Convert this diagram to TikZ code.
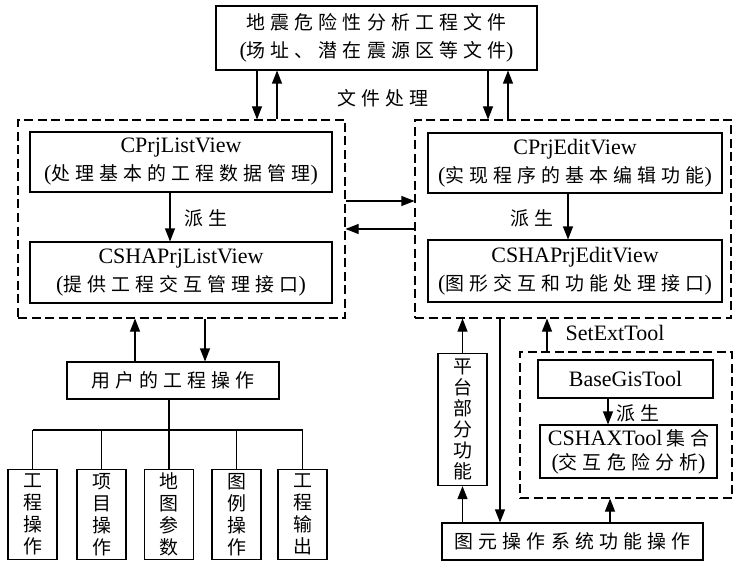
\documentclass[tikz,border=0pt]{standalone}
\usepackage{fontspec}
\setmainfont{Liberation Serif}
\newfontfamily\cjk{Noto Sans CJK SC}[Scale=0.86,LetterSpace=27]
\newcommand\zh[1]{{\cjk #1}}
\usetikzlibrary{arrows.meta}
\begin{document}
\begin{tikzpicture}[x=1pt,y=-1pt,
  every node/.style={inner sep=0pt,align=center,font=\fontsize{22}{28}\selectfont},
  box/.style={draw,line width=1.1pt},
  dbox/.style={draw,line width=1.1pt,dash pattern=on 9pt off 4.5pt},
  vbox/.style={draw,line width=1.1pt,anchor=north,font=\fontsize{22}{22}\selectfont},
  arr/.style={line width=1.1pt,-{Triangle[length=13pt,width=10pt]}},
  ln/.style={line width=1.1pt}]
\useasboundingbox (0,0) rectangle (735,561);
% top
\node[box,minimum width=321pt,minimum height=64pt] (top) at (376.5,38)
  {\zh{地震危险性分析工程文件}\\(\zh{场址、潜在震源区等文件})};
\node (lbl) at (383,98) {\zh{文件处理}};
% left dashed group
\node[dbox,minimum width=327pt,minimum height=198pt] (ld) at (181.5,219) {};
\node[box,minimum width=302pt,minimum height=60pt] (l1) at (181,162)
  {CPrjListView\\(\zh{处理基本的工程数据管理})};
\node[box,minimum width=302pt,minimum height=61pt] (l2) at (181,272.5)
  {CSHAPrjListView\\(\zh{提供工程交互管理接口})};
\node (pl) at (206,218) {\zh{派生}};
% right dashed group
\node[dbox,minimum width=316pt,minimum height=198pt] (rd) at (573,219) {};
\node[box,minimum width=294pt,minimum height=60pt] (r1) at (575,163)
  {CPrjEditView\\(\zh{实现程序的基本编辑功能})};
\node[box,minimum width=294pt,minimum height=62pt] (r2) at (575,271)
  {CSHAPrjEditView\\(\zh{图形交互和功能处理接口})};
\node (pr) at (532,218) {\zh{派生}};
% arrows top
\draw[arr] (top.south -| 257,0) -- (ld.north -| 257,0);
\draw[arr] (ld.north -| 277,0) -- (top.south -| 277,0);
\draw[arr] (top.south -| 488,0) -- (rd.north -| 488,0);
\draw[arr] (rd.north -| 508,0) -- (top.south -| 508,0);
\draw[arr] (l1.south -| 170,0) -- (l2.north -| 170,0);
\draw[arr] (r1.south -| 568,0) -- (r2.north -| 568,0);
\draw[arr] (ld.east |- 0,201) -- (rd.west |- 0,201);
\draw[arr] (rd.west |- 0,229) -- (ld.east |- 0,229);
% user operations
\node[box,minimum width=212pt,minimum height=37pt] (user) at (173,380.5) {\zh{用户的工程操作}};
\draw[arr] (user.north -| 135,0) -- (ld.south -| 135,0);
\draw[arr] (ld.south -| 205,0) -- (user.north -| 205,0);
\node[vbox,minimum width=49pt,minimum height=90pt] (k1) at (32.5,469) {\zh{工}\\\zh{程}\\\zh{操}\\\zh{作}};
\node[vbox,minimum width=49pt,minimum height=90pt] (k2) at (101.5,469) {\zh{项}\\\zh{目}\\\zh{操}\\\zh{作}};
\node[vbox,minimum width=49pt,minimum height=90pt] (k3) at (169,469) {\zh{地}\\\zh{图}\\\zh{参}\\\zh{数}};
\node[vbox,minimum width=49pt,minimum height=90pt] (k4) at (236.5,469) {\zh{图}\\\zh{例}\\\zh{操}\\\zh{作}};
\node[vbox,minimum width=49pt,minimum height=90pt] (k5) at (302.5,469) {\zh{工}\\\zh{程}\\\zh{输}\\\zh{出}};
\draw[ln] (user.south -| k3.north) -- (k3.north);
\draw[ln] (k1.north |- 0,430) -- (k5.north |- 0,430);
\foreach \k in {k1,k2,k4,k5} \draw[ln] (\k.north |- 0,430) -- (\k.north);
% bottom right
\node[vbox,minimum width=49pt,minimum height=132pt,font=\fontsize{22}{21}\selectfont] (pt) at (462.5,353)
  {\zh{平}\\\zh{台}\\\zh{部}\\\zh{分}\\\zh{功}\\\zh{能}};
\node[box,minimum width=261pt,minimum height=37pt] (ty) at (572.5,541.5) {\zh{图元操作系统功能操作}};
\node[dbox,minimum width=212pt,minimum height=146pt] (id) at (626,425) {};
\node[box,minimum width=175pt,minimum height=38pt] (bg) at (625.5,379) {BaseGisTool};
\node[box,minimum width=177pt,minimum height=53pt] (cx) at (628.5,451.5)
  {CSHAXTool\,\zh{集合}\\[-4pt](\zh{交互危险分析})};
\node (set) at (615,333) {SetExtTool};
\node (pb) at (638,413) {\zh{派生}};
\draw[arr] (pt.north) -- (rd.south -| pt.north);
\draw[arr] (ty.north -| pt.south) -- (pt.south);
\draw[arr] (rd.south -| 500,0) -- (ty.north -| 500,0);
\draw[arr] (id.north -| 547,0) -- (rd.south -| 547,0);
\draw[arr] (bg.south -| 608,0) -- (cx.north -| 608,0);
\draw[arr] (ty.north -| 610,0) -- (id.south -| 610,0);
\end{tikzpicture}
\end{document}
